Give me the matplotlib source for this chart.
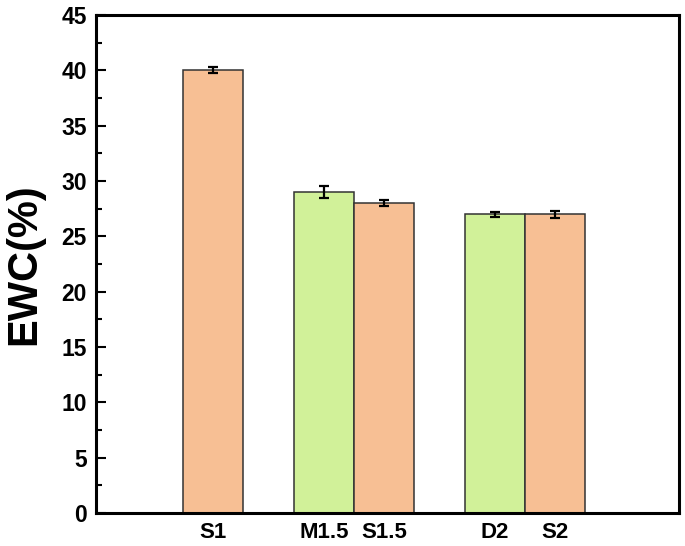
import matplotlib
matplotlib.use("Agg")
import matplotlib.pyplot as plt
from matplotlib.ticker import MultipleLocator

labels = ["S1", "M1.5", "S1.5", "D2", "S2"]
values = [40.0, 29.0, 28.0, 27.0, 27.0]
errors = [0.26, 0.53, 0.3, 0.22, 0.33]
positions = [0, 1.85, 2.85, 4.7, 5.7]
colors = ["#F7BF94", "#D1F199", "#F7BF94", "#D1F199", "#F7BF94"]

plt.rcParams['font.family'] = ['Liberation Sans', 'DejaVu Sans']
plt.rcParams['font.weight'] = 'bold'

fig = plt.figure(figsize=(6.85, 5.46), dpi=100)
W, H = 685, 546
ax = fig.add_axes([96 / W, 1 - 513 / H, (679 - 96) / W, (513 - 15) / H])

ax.bar(positions, values, width=1.0, color=colors, edgecolor="#333333", linewidth=1.1, zorder=2)
ax.errorbar(positions, values, yerr=errors, fmt="none", ecolor="black",
            elinewidth=1.6, capsize=3.6, capthick=1.6, zorder=3)

ax.set_xlim(-1.95, 7.77)
ax.set_ylim(0, 45)
ax.yaxis.set_major_locator(MultipleLocator(5))
ax.yaxis.set_minor_locator(MultipleLocator(2.5))
ax.set_xticks(positions)
ax.set_xticklabels(labels, fontsize=16, fontweight='bold')
ax.tick_params(axis='x', length=0, pad=6.5)
ax.tick_params(axis='y', which='major', direction='in', length=7, width=1.5, labelsize=16.5, pad=6.5)
ax.tick_params(axis='y', which='minor', direction='in', length=4, width=1.5)
for lab in ax.get_yticklabels():
    lab.set_fontweight('bold')
for s in ax.spines.values():
    s.set_linewidth(2.2)
ax.set_ylabel("EWC(%)", fontsize=30, fontweight='bold', labelpad=12)

fig.savefig("out.png", dpi=100)
